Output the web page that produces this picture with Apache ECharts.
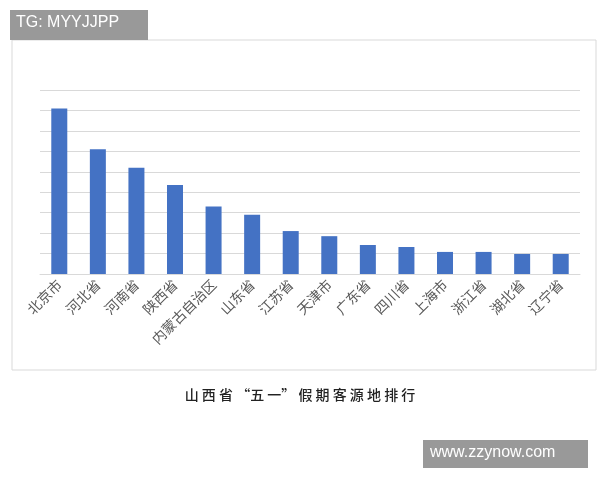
<!DOCTYPE html>
<html>
<head>
<meta charset="utf-8">
<script src="https://cdn.jsdelivr.net/npm/echarts@6/dist/echarts.min.js"></script>
<style>
body{margin:0;background:#fff;}
#main{width:600px;height:480px;}
</style>
</head>
<body>
<div id="main"></div>
<script>
// 客源地
var categories = ["北京市","河北省","河南省","陕西省","内蒙古自治区","山东省","江苏省","天津市","广东省","四川省","上海市","浙江省","湖北省","辽宁省"];
var values = [8.1, 6.1, 5.2, 4.35, 3.3, 2.9, 2.1, 1.85, 1.42, 1.32, 1.08, 1.08, 0.98, 0.98];

var myChart = echarts.init(document.getElementById("main"));
var option = {
    animation: false,
    graphic: [
        {type: 'rect', shape: {x: 12, y: 40, width: 584, height: 330}, style: {fill: 'none', stroke: '#d9d9d9', lineWidth: 1}},
        {type: 'rect', shape: {x: 10, y: 10, width: 138, height: 30}, style: {fill: '#999'}},
        {type: 'text', left: 16, top: 15, style: {text: 'TG: MYYJJPP', fill: '#fff', font: '16px "Liberation Sans"'}},
        {type: 'rect', shape: {x: 423, y: 440, width: 165, height: 28}, style: {fill: '#999'}},
        {type: 'text', left: 430, top: 445, style: {text: 'www.zzynow.com', fill: '#fff', font: '16px "Liberation Sans"'}},
        {type: 'text', left: 'center', top: 388, style: {text: '山 西 省 “五 一” 假 期 客 源 地 排 行', fill: '#222', font: '500 14px "Noto Sans CJK SC"'}}
    ],
    grid: {left: 40, right: 20, top: 90, bottom: 206},
    xAxis: {
        type: 'category',
        data: categories,
        axisTick: {show: false},
        axisLine: {lineStyle: {color: '#d9d9d9'}},
        axisLabel: {interval: 0, rotate: 45, color: '#595959', fontSize: 14, fontFamily: 'Noto Sans CJK SC', margin: 8}
    },
    yAxis: {
        type: 'value',
        min: 0, max: 9, interval: 1,
        axisLabel: {show: false},
        axisLine: {show: false},
        axisTick: {show: false},
        splitLine: {lineStyle: {color: '#d9d9d9'}}
    },
    series: [{
        type: 'bar',
        data: values,
        barWidth: 16,
        itemStyle: {color: '#4472c4'}
    }]
};
myChart.setOption(option);
</script>
</body>
</html>
